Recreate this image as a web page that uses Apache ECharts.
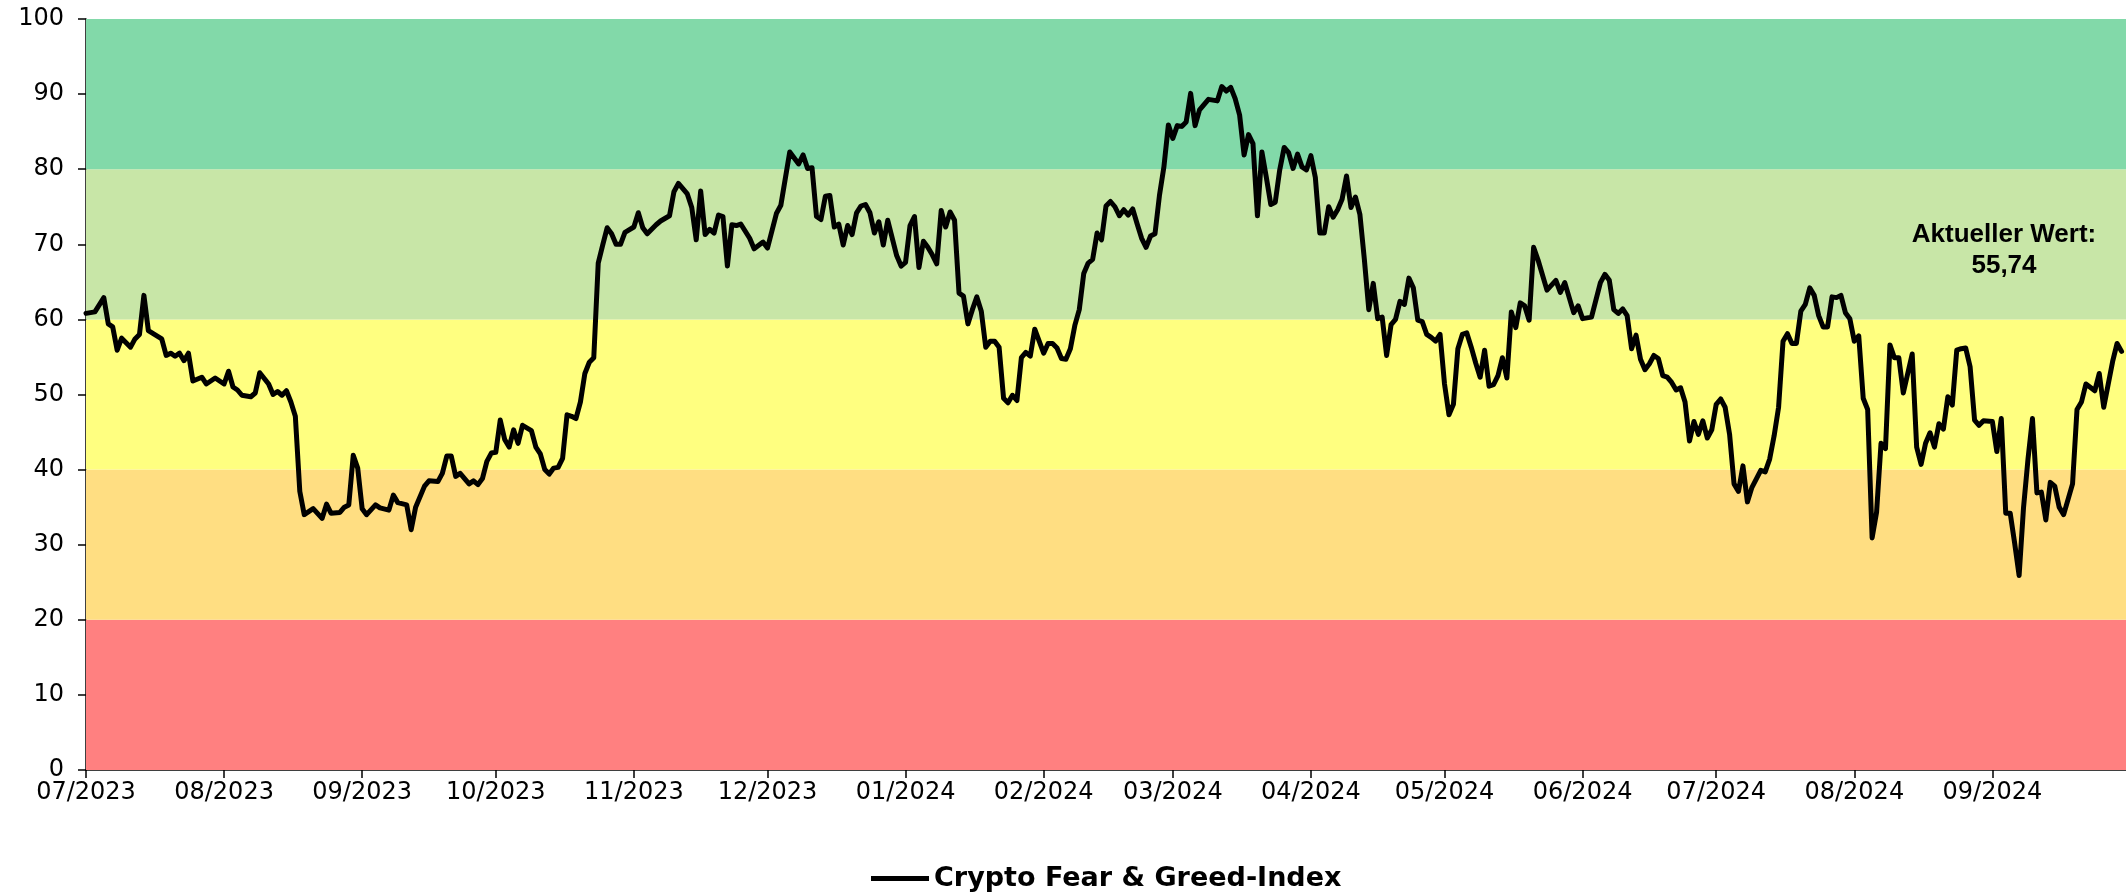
<!DOCTYPE html>
<html>
<head>
<meta charset="utf-8">
<script src="https://cdn.jsdelivr.net/npm/echarts@6/dist/echarts.min.js"></script>
<style>
  html, body { margin: 0; padding: 0; background: #fff; }
  #chart { width: 2126px; height: 893px; }
</style>
</head>
<body>
<div id="chart"></div>
<script>
// Startdatum der Reihe (01.07.2023), Tagesabstand in den Arrays unten
const startYear = 2023, startMonth = 6, startDay = 1;

// Tage seit 01.07.2023
const dayOffsets = [
  0, 2, 4, 5, 6, 7, 8, 10, 11, 12, 13, 14, 17, 18, 19, 20, 21, 22, 23, 24, 26, 27, 29, 31, 32, 33, 34, 35, 37, 38,
  39, 41, 42, 43, 44, 45, 46, 47, 48, 49, 51, 53, 54, 55, 57, 58, 59, 60, 61, 62, 63, 65, 66, 68, 69, 70, 72, 73, 74, 76,
  77, 79, 80, 81, 82, 83, 84, 86, 87, 88, 89, 90, 91, 92, 93, 94, 95, 96, 97, 98, 100, 101, 102, 103, 104, 105, 106, 107, 108, 109,
  110, 111, 112, 113, 114, 115, 116, 117, 118, 119, 120, 121, 123, 124, 125, 126, 128, 129, 131, 132, 133, 135, 136, 137, 138, 139, 140, 141, 142, 143,
  144, 145, 146, 147, 149, 150, 152, 153, 155, 156, 158, 160, 161, 162, 163, 164, 165, 166, 167, 168, 169, 170, 171, 172, 173, 174, 175, 176, 177, 178,
  179, 180, 182, 183, 184, 185, 186, 187, 188, 189, 190, 191, 192, 193, 194, 195, 196, 197, 198, 199, 200, 201, 202, 203, 204, 205, 206, 207, 208, 209,
  210, 211, 212, 213, 214, 215, 216, 217, 218, 219, 220, 221, 222, 223, 224, 225, 226, 227, 228, 229, 230, 231, 232, 233, 234, 235, 236, 237, 238, 239,
  240, 241, 242, 243, 244, 245, 246, 247, 248, 249, 250, 251, 252, 254, 255, 256, 257, 258, 259, 260, 261, 262, 263, 264, 265, 266, 267, 268, 269, 270,
  271, 272, 273, 274, 275, 276, 277, 278, 279, 280, 281, 282, 283, 284, 285, 286, 287, 288, 289, 290, 291, 292, 293, 294, 295, 296, 297, 298, 299, 300,
  301, 302, 303, 304, 305, 306, 307, 308, 309, 310, 311, 312, 313, 314, 315, 316, 317, 318, 319, 320, 321, 322, 323, 324, 325, 326, 328, 330, 331, 332,
  334, 335, 336, 338, 340, 341, 342, 343, 344, 345, 346, 347, 348, 349, 350, 351, 352, 353, 354, 355, 356, 357, 358, 359, 360, 361, 362, 363, 364, 365,
  366, 367, 368, 369, 370, 371, 372, 373, 374, 376, 377, 378, 379, 380, 381, 382, 383, 384, 385, 386, 387, 388, 389, 390, 391, 392, 393, 394, 395, 396,
  397, 398, 399, 400, 401, 402, 403, 404, 405, 406, 407, 408, 410, 411, 412, 413, 414, 415, 416, 417, 418, 419, 420, 421, 422, 423, 424, 425, 426, 428,
  429, 430, 431, 432, 433, 434, 435, 436, 437, 438, 439, 440, 441, 442, 443, 444, 446, 447, 448, 449, 451, 452, 453, 455, 456, 457
];

// Crypto Fear & Greed-Index
const indexValues = [
  60.8, 61.0, 62.9, 59.4, 59.0, 55.9, 57.5, 56.3, 57.4, 58.0, 63.2, 58.5, 57.4, 55.2, 55.5, 55.1, 55.5, 54.5, 55.5, 51.8, 52.3, 51.4, 52.2, 51.4, 53.1, 51.0, 50.6, 49.9, 49.7, 50.2,
  52.9, 51.4, 50.0, 50.4, 49.9, 50.5, 49.0, 47.1, 37.1, 34.0, 34.8, 33.5, 35.4, 34.2, 34.3, 35.0, 35.3, 41.9, 40.2, 34.8, 34.0, 35.3, 34.9, 34.6, 36.6, 35.6, 35.3, 32.0, 35.0, 37.8,
  38.5, 38.4, 39.5, 41.8, 41.8, 39.1, 39.5, 38.1, 38.5, 38.0, 38.8, 41.1, 42.2, 42.3, 46.6, 44.0, 43.0, 45.3, 43.5, 45.9, 45.2, 43.0, 42.1, 40.0, 39.4, 40.2, 40.3, 41.5, 47.3, 47.1,
  46.8, 49.0, 52.8, 54.3, 54.9, 67.5, 69.9, 72.2, 71.4, 70.0, 70.0, 71.6, 72.3, 74.2, 72.2, 71.4, 72.6, 73.1, 73.8, 77.0, 78.1, 76.7, 74.9, 70.6, 77.1, 71.3, 72.0, 71.5, 73.9, 73.7,
  67.1, 72.6, 72.5, 72.7, 70.8, 69.4, 70.3, 69.5, 74.1, 75.2, 82.3, 80.7, 81.9, 80.1, 80.2, 73.7, 73.3, 76.4, 76.5, 72.3, 72.7, 69.9, 72.5, 71.3, 74.2, 75.1, 75.3, 74.2, 71.5, 73.0,
  69.9, 73.2, 68.5, 67.1, 67.6, 72.5, 73.7, 66.9, 70.4, 69.6, 68.6, 67.4, 74.5, 72.3, 74.3, 73.2, 63.5, 63.1, 59.4, 61.3, 63.0, 61.1, 56.3, 57.1, 57.1, 56.3, 49.5, 48.9, 49.9, 49.2,
  54.9, 55.6, 55.1, 58.7, 57.1, 55.5, 56.8, 56.8, 56.2, 54.8, 54.7, 56.1, 59.2, 61.3, 66.1, 67.5, 68.0, 71.5, 70.6, 75.1, 75.7, 75.0, 73.8, 74.6, 73.9, 74.7, 72.7, 70.8, 69.6, 71.1,
  71.4, 76.5, 80.3, 85.9, 84.1, 85.8, 85.7, 86.3, 90.1, 85.8, 87.9, 88.6, 89.3, 89.1, 91.0, 90.4, 90.9, 89.4, 87.2, 81.9, 84.6, 83.4, 73.8, 82.3, 78.9, 75.3, 75.6, 79.9, 82.9, 82.2,
  80.1, 82.0, 80.3, 79.9, 81.8, 78.9, 71.5, 71.5, 75.0, 73.6, 74.6, 76.0, 79.1, 74.9, 76.3, 74.0, 68.0, 61.3, 64.8, 60.1, 60.3, 55.2, 59.3, 60.0, 62.4, 62.0, 65.5, 64.2, 59.9, 59.7,
  58.0, 57.6, 57.1, 58.0, 51.4, 47.3, 48.7, 56.1, 58.0, 58.2, 56.3, 54.2, 52.3, 55.9, 51.1, 51.3, 52.5, 54.9, 52.2, 61.0, 58.9, 62.2, 61.8, 59.9, 69.6, 67.9, 63.9, 65.2, 63.6, 64.9,
  60.9, 61.8, 60.1, 60.3, 64.9, 66.0, 65.2, 61.3, 60.8, 61.4, 60.5, 56.1, 57.9, 54.7, 53.3, 54.1, 55.2, 54.8, 52.5, 52.3, 51.6, 50.6, 50.9, 49.0, 43.8, 46.4, 44.7, 46.5, 44.2, 45.3,
  48.7, 49.4, 48.3, 44.7, 38.1, 37.1, 40.5, 35.7, 37.6, 39.9, 39.7, 41.4, 44.5, 48.3, 57.1, 58.1, 56.8, 56.8, 61.1, 62.0, 64.2, 63.2, 60.5, 59.0, 59.0, 63.0, 62.9, 63.2, 60.9, 60.1,
  57.1, 57.8, 49.5, 48.0, 30.9, 34.3, 43.5, 42.8, 56.6, 54.9, 54.9, 50.2, 55.4, 43.0, 40.7, 43.5, 44.9, 43.0, 46.1, 45.4, 49.7, 48.6, 55.9, 56.1, 56.2, 53.7, 46.6, 45.9, 46.5, 46.4,
  42.4, 46.8, 34.2, 34.2, 30.2, 25.9, 35.0, 41.4, 46.8, 36.9, 37.0, 33.3, 38.3, 37.8, 35.0, 34.0, 38.1, 48.0, 49.0, 51.4, 50.5, 52.8, 48.3, 54.4, 56.8, 55.74
];

// Beschriftung der x-Achse (Monatsanfang)
const monthLabels = [
  '07/2023', '08/2023', '09/2023', '10/2023', '11/2023', '12/2023', '01/2024', '02/2024',
  '03/2024', '04/2024', '05/2024', '06/2024', '07/2024', '08/2024', '09/2024'
];

// Farbbänder (extreme Angst ... extreme Gier)
const bandEdges = [0, 20, 40, 60, 80, 100];
const bandColors = ['#FF8080', '#FFDE82', '#FFFF80', '#C8E6A7', '#82D9A9'];

const seriesName = 'Crypto Fear & Greed-Index';
const currentText = 'Aktueller Wert:\n55,74';
const lastDay = 458; // 01.10.2024 = rechter Rand

const chart = echarts.init(document.getElementById('chart'));

// Monatsanfang -> Tage seit Start
const t0 = Date.UTC(startYear, startMonth, startDay);
const monthTicks = monthLabels.map(s =>
  Math.round((Date.UTC(+s.slice(3), +s.slice(0, 2) - 1, 1) - t0) / 86400000));

const lineData = dayOffsets.map((d, i) => [d, indexValues[i]]);

const bands = [];
for (let i = 0; i < bandColors.length; i++) {
  bands.push([
    {yAxis: bandEdges[i], itemStyle: {color: bandColors[i], opacity: 1}},
    {yAxis: bandEdges[i + 1]}
  ]);
}

let option = {
  animation: false,
  backgroundColor: '#ffffff',
  grid: {
    left: 86,
    right: 0,
    top: 19,
    bottom: 123,
    containLabel: false
  },
  legend: {
    data: [seriesName],
    left: 866,
    top: 860,
    icon: 'rect',
    itemWidth: 58,
    itemHeight: 5,
    itemGap: 0,
    itemStyle: {color: '#000'},
    textStyle: {
      fontFamily: 'DejaVu Sans',
      fontWeight: 'bold',
      fontSize: 27,
      color: '#000'
    }
  },
  xAxis: {
    type: 'value',
    min: 0,
    max: lastDay,
    splitLine: {show: false},
    axisLine: {lineStyle: {color: '#000', width: 1.5}},
    axisTick: {
      show: true,
      length: 8,
      lineStyle: {color: '#000', width: 1.5},
      customValues: monthTicks
    },
    axisLabel: {
      customValues: monthTicks,
      margin: 11,
      fontFamily: 'DejaVu Sans',
      fontSize: 24,
      color: '#000',
      formatter: function (value) {
        const idx = monthTicks.indexOf(value);
        return idx >= 0 ? monthLabels[idx] : '';
      }
    }
  },
  yAxis: {
    type: 'value',
    min: 0,
    max: 100,
    interval: 10,
    splitLine: {show: false},
    axisLine: {show: true, lineStyle: {color: '#000', width: 1.5}},
    axisTick: {show: true, length: 8, lineStyle: {color: '#000', width: 1.5}},
    axisLabel: {
      margin: 22,
      fontFamily: 'DejaVu Sans',
      fontSize: 24,
      color: '#000'
    }
  },
  graphic: [{
    type: 'text',
    x: 2004,
    y: 219,
    z: 10,
    style: {
      text: currentText,
      fontFamily: 'Liberation Sans, Arial',
      fontWeight: 'bold',
      fontSize: 26,
      lineHeight: 31,
      fill: '#000',
      align: 'center',
      verticalAlign: 'top'
    }
  }],
  series: [{
    name: seriesName,
    type: 'line',
    data: lineData,
    showSymbol: false,
    symbol: 'none',
    smooth: false,
    z: 3,
    lineStyle: {color: '#000', width: 5, join: 'round', cap: 'round'},
    itemStyle: {color: '#000'},
    markArea: {
      silent: true,
      z: 1,
      data: bands
    }
  }]
};

chart.setOption(option);
</script>
</body>
</html>
